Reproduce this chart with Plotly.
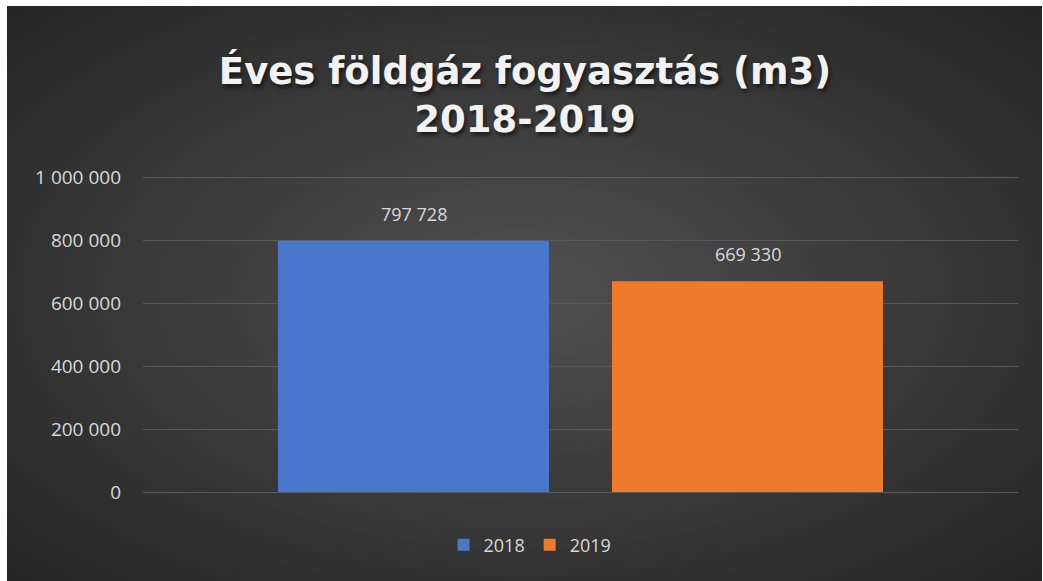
import base64
import plotly.graph_objects as go

years = ["2018", "2019"]
consumption = [797728, 669330]
bar_colors = ["#4A76CC", "#EE7A2C"]
y_ticks = [0, 200000, 400000, 600000, 800000, 1000000]
category = "Földgáz"

W, H = 1043, 581
L, R, T, B = 143, 25, 174, 89
pw, ph = W - L - R, H - T - B

# dark radial-gradient chart background as an inline svg
svg = (
    '<svg xmlns="http://www.w3.org/2000/svg" width="1035" height="575">'
    '<defs><radialGradient id="g" cx="50%" cy="50%" r="75%">'
    '<stop offset="0%" stop-color="#505050"/>'
    '<stop offset="100%" stop-color="#222222"/>'
    '</radialGradient></defs>'
    '<rect width="1035" height="575" fill="url(#g)"/></svg>'
)
bg = "data:image/svg+xml;base64," + base64.b64encode(svg.encode()).decode()

fig = go.Figure()
for yr, val, col in zip(years, consumption, bar_colors):
    fig.add_trace(go.Bar(
        x=[category], y=[val], name=yr,
        marker=dict(color=col, line=dict(width=0)),
    ))

# value labels above each bar (grouped slot is ~334px wide)
for i, val in enumerate(consumption):
    fig.add_annotation(
        x=category, y=val, xshift=(i - 0.5) * 334, yshift=13,
        yanchor="bottom", showarrow=False,
        text=f"{val:,}".replace(",", " "),
        font=dict(family="Open Sans", size=18, color="#D9D9D9"),
    )

fig.update_layout(
    width=W, height=H,
    margin=dict(l=L, r=R, t=T, b=B),
    paper_bgcolor="white",
    plot_bgcolor="rgba(0,0,0,0)",
    separators=". ",
    barmode="group",
    bargap=0.2366,
    bargroupgap=0.1886,
    title=dict(
        text="Éves földgáz fogyasztás (m3)<br>2018-2019",
        x=(525 - L) / pw, xref="paper", xanchor="center",
        y=1 - 84 / H, yanchor="middle",
        font=dict(family="DejaVu Sans", size=37, weight="bold", color="#F2F2F2",
                  shadow="2px 3px 4px rgba(0,0,0,0.6)"),
    ),
    showlegend=True,
    legend=dict(
        orientation="h", x=(530 - L) / pw, xanchor="center",
        y=-(545 - (T + ph)) / ph, yanchor="middle",
        font=dict(family="Open Sans", size=18, color="#D9D9D9"),
        bgcolor="rgba(0,0,0,0)",
    ),
    font=dict(family="Open Sans", color="#D9D9D9"),
    images=[dict(
        source=bg, xref="paper", yref="paper",
        x=(7 - L) / pw, y=1 + (T - 6) / ph,
        sizex=(W - 1 - 7) / pw, sizey=(H - 6) / ph,
        sizing="stretch", layer="below", xanchor="left", yanchor="top",
    )],
)
fig.update_xaxes(type="category", range=[-0.5, 0.5], showticklabels=False,
                 showgrid=False, zeroline=False, showline=False)
fig.update_yaxes(
    range=[0, 1009524], tickvals=y_ticks, tickformat=",d",
    showgrid=True, gridcolor="#595959", gridwidth=1,
    zeroline=True, zerolinecolor="#595959", zerolinewidth=1,
    tickfont=dict(family="Open Sans", size=19, color="#D9D9D9"),
    ticks="", ticklen=0, showline=False, ticklabelstandoff=21,
)

fig.write_html("out.html", config={"displayModeBar": False},
               post_script="document.body.style.margin='0';")
